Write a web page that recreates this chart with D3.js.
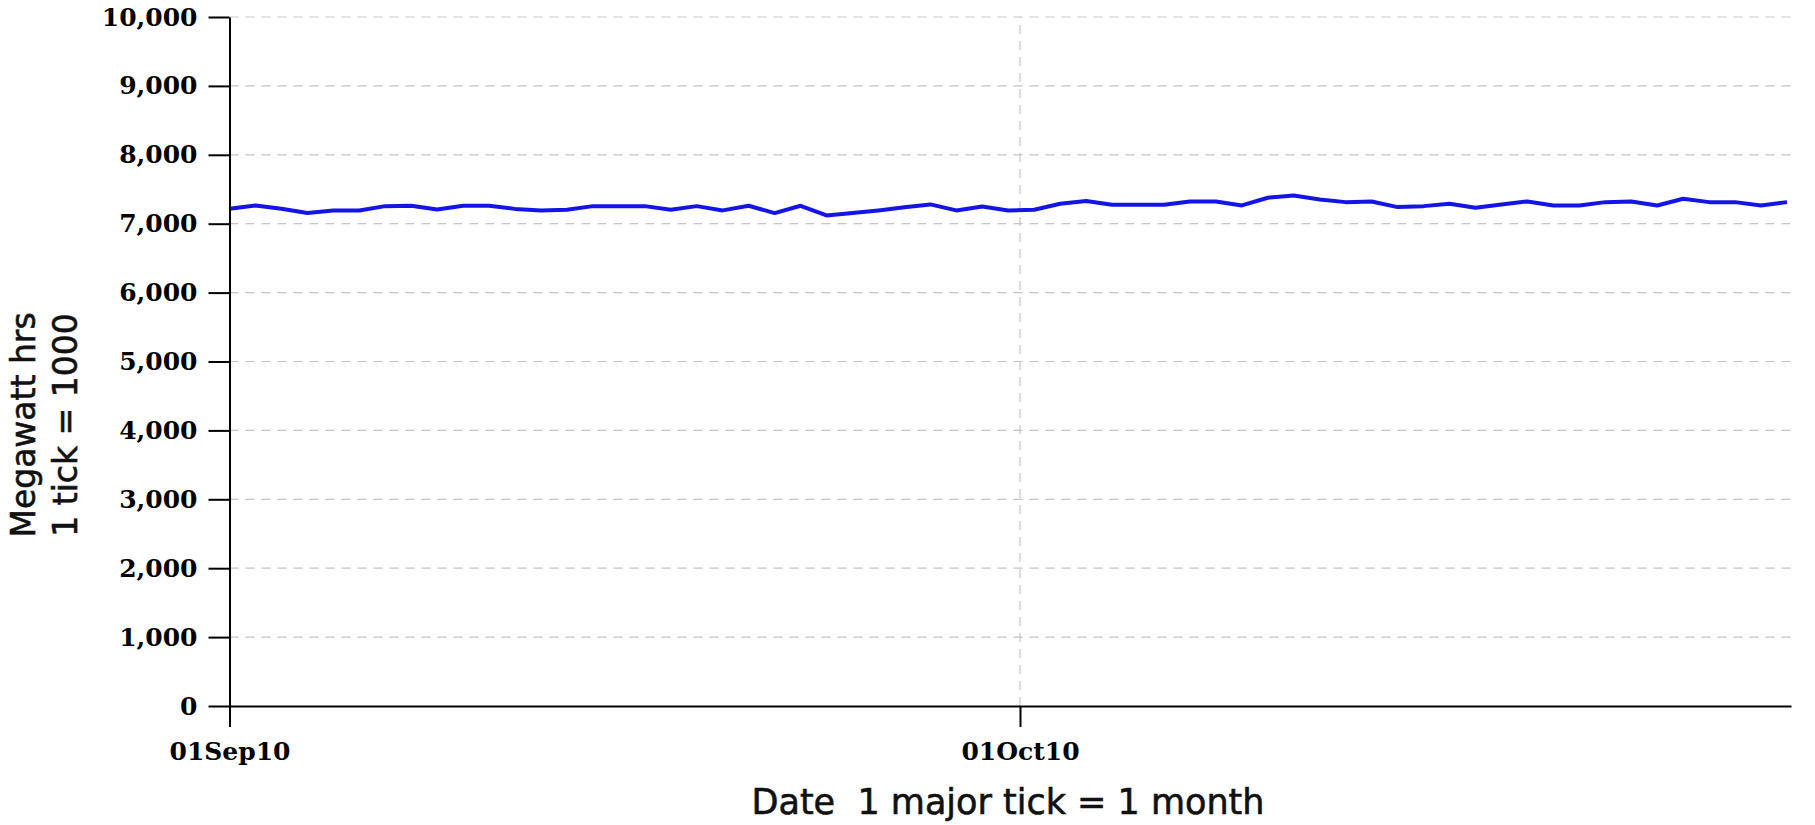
<!DOCTYPE html>
<html>
<head>
<meta charset="utf-8">
<script src="https://cdn.jsdelivr.net/npm/d3@7"></script>
<style>
  html, body { margin: 0; padding: 0; background: #ffffff; }
  svg { display: block; }
</style>
</head>
<body>
<svg id="chart" width="1815" height="825"></svg>
<script>
// ---- data ----
const dates = [
  "2010-09-01","2010-09-02","2010-09-03","2010-09-04","2010-09-05","2010-09-06","2010-09-07","2010-09-08",
  "2010-09-09","2010-09-10","2010-09-11","2010-09-12","2010-09-13","2010-09-14","2010-09-15","2010-09-16",
  "2010-09-17","2010-09-18","2010-09-19","2010-09-20","2010-09-21","2010-09-22","2010-09-23","2010-09-24",
  "2010-09-25","2010-09-26","2010-09-27","2010-09-28","2010-09-29","2010-09-30","2010-10-01","2010-10-02",
  "2010-10-03","2010-10-04","2010-10-05","2010-10-06","2010-10-07","2010-10-08","2010-10-09","2010-10-10",
  "2010-10-11","2010-10-12","2010-10-13","2010-10-14","2010-10-15","2010-10-16","2010-10-17","2010-10-18",
  "2010-10-19","2010-10-20","2010-10-21","2010-10-22","2010-10-23","2010-10-24","2010-10-25","2010-10-26",
  "2010-10-27","2010-10-28","2010-10-29","2010-10-30","2010-10-31"
];
const megawattHrs = [
  7218, 7265, 7218, 7154, 7193, 7193, 7255, 7260, 7207, 7260, 7260, 7215, 7193, 7203, 7255, 7255,
  7255, 7203, 7255, 7193, 7260, 7154, 7260, 7120, 7154, 7193, 7240, 7280, 7193, 7250, 7193, 7203,
  7290, 7328, 7275, 7275, 7275, 7323, 7323, 7265, 7377, 7410, 7352, 7313, 7323, 7241, 7255, 7290,
  7232, 7280, 7323, 7265, 7265, 7313, 7323, 7265, 7362, 7313, 7313, 7265, 7313
];
const yTicks = [0, 1000, 2000, 3000, 4000, 5000, 6000, 7000, 8000, 9000, 10000];
const xTickDates = ["2010-09-01", "2010-10-01"];
const xAxisEnd = "2010-10-30T06:15";
const yTitleLines = ["Megawatt hrs", "1 tick = 1000"];
const xTitle = "Date  1 major tick = 1 month";

// ---- layout ----
const plotLeft = 229.5, plotRight = 1791, plotTop = 17, plotBottom = 706;
const lineEnd = 1787;
const parse = d3.timeParse("%Y-%m-%d");
const parseT = d3.timeParse("%Y-%m-%dT%H:%M");

const svg = d3.select("#chart");

const x = d3.scaleTime()
  .domain([parse(xTickDates[0]), parseT(xAxisEnd)])
  .range([plotLeft, plotRight]);
const xi = d3.scalePoint().domain(dates).range([plotLeft, lineEnd]);
const y = d3.scaleLinear().domain([0, 10000]).range([plotBottom, plotTop]);

const gridColor = "#c4c4c4";
const dash = "9,7";

// horizontal gridlines
svg.append("g").selectAll("line")
  .data(yTicks.filter(d => d > 0))
  .join("line")
  .attr("x1", plotLeft).attr("x2", plotRight)
  .attr("y1", d => y(d)).attr("y2", d => y(d))
  .attr("stroke", gridColor).attr("stroke-width", 1.2)
  .attr("stroke-dasharray", dash);

// vertical gridlines (non-origin major ticks)
svg.append("g").selectAll("line")
  .data(xTickDates.slice(1).map(parse))
  .join("line")
  .attr("x1", d => x(d)).attr("x2", d => x(d))
  .attr("y1", plotBottom).attr("y2", plotTop)
  .attr("stroke", gridColor).attr("stroke-width", 1.2)
  .attr("stroke-dasharray", dash);

// data line
const line = d3.line()
  .x((d, i) => xi(dates[i]))
  .y(d => y(d));
svg.append("path")
  .datum(megawattHrs)
  .attr("d", line)
  .attr("fill", "none")
  .attr("stroke", "#1414e6")
  .attr("stroke-width", 4)
  .attr("stroke-linejoin", "round");

const tickFont = sel => sel
  .attr("font-family", "'DejaVu Serif', serif")
  .attr("font-weight", "bold")
  .attr("font-size", 25)
  .attr("fill", "#000");

// y axis
const yAxis = svg.append("g")
  .attr("transform", `translate(${plotLeft},0)`)
  .call(d3.axisLeft(y).tickValues(yTicks).tickSize(21).tickSizeOuter(0)
    .tickPadding(11).tickFormat(d3.format(",")));
yAxis.select(".domain").attr("stroke", "#000").attr("stroke-width", 2);
yAxis.selectAll(".tick line").attr("stroke", "#000").attr("stroke-width", 2);
yAxis.selectAll(".tick text").call(tickFont);

// x axis
const xAxis = svg.append("g")
  .attr("transform", `translate(0,${plotBottom})`)
  .call(d3.axisBottom(x).tickValues(xTickDates.map(parse)).tickSize(21).tickSizeOuter(0)
    .tickPadding(15).tickFormat(d3.timeFormat("%d%b%y")));
xAxis.select(".domain").attr("stroke", "#000").attr("stroke-width", 2);
xAxis.selectAll(".tick line").attr("stroke", "#000").attr("stroke-width", 2);
xAxis.selectAll(".tick text").call(tickFont);

// y title
const yt = svg.append("text")
  .attr("transform", "translate(0,425) rotate(-90)")
  .attr("text-anchor", "middle")
  .attr("font-family", "'DejaVu Sans', sans-serif")
  .attr("font-size", 33)
  .attr("fill", "#111")
  .attr("stroke", "#111")
  .attr("stroke-width", 0.6);
yt.selectAll("tspan").data(yTitleLines).join("tspan")
  .attr("x", 0)
  .attr("y", (d, i) => [35, 77][i])
  .text(d => d);

// x title
svg.append("text")
  .attr("x", 1008)
  .attr("y", 814)
  .attr("text-anchor", "middle")
  .attr("font-family", "'DejaVu Sans', sans-serif")
  .attr("font-size", 35)
  .attr("fill", "#111")
  .attr("stroke", "#111")
  .attr("stroke-width", 0.6)
  .attr("xml:space", "preserve")
  .style("white-space", "pre")
  .text(xTitle);
</script>
</body>
</html>
